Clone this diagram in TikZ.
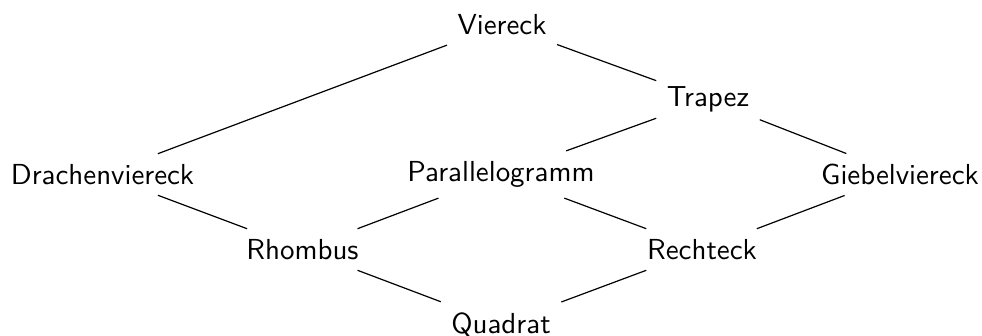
\documentclass[tikz,border=0pt]{standalone}
\begin{document}
\begin{tikzpicture}[x=0.3333pt,y=-0.3333pt,
  quad/.style={font=\sffamily\fontsize{9.65}{11.5}\selectfont, inner sep=3.33pt},
  link/.style={line width=0.4pt}]
\useasboundingbox (0,0) rectangle (982,336);
% quadrilateral classes
\node[quad] (vier)   at (502,24.5)  {Viereck};
\node[quad] (trap)   at (708,99.5)  {Trapez};
\node[quad] (drach)  at (102.5,174.5) {Drachenviereck};
\node[quad] (para)   at (501,174.5) {Parallelogramm};
\node[quad] (giebel) at (900,174.5) {Giebelviereck};
\node[quad] (rhomb)  at (302.5,249.5) {Rhombus};
\node[quad] (recht)  at (702,249.5) {Rechteck};
\node[quad] (quad)   at (501,324.5) {Quadrat};
% specialisation relations
\draw[link] (vier) -- (drach);
\draw[link] (vier) -- (trap);
\draw[link] (trap) -- (para);
\draw[link] (trap) -- (giebel);
\draw[link] (drach) -- (rhomb);
\draw[link] (para) -- (rhomb);
\draw[link] (para) -- (recht);
\draw[link] (giebel) -- (recht);
\draw[link] (rhomb) -- (quad);
\draw[link] (recht) -- (quad);
\end{tikzpicture}
\end{document}
